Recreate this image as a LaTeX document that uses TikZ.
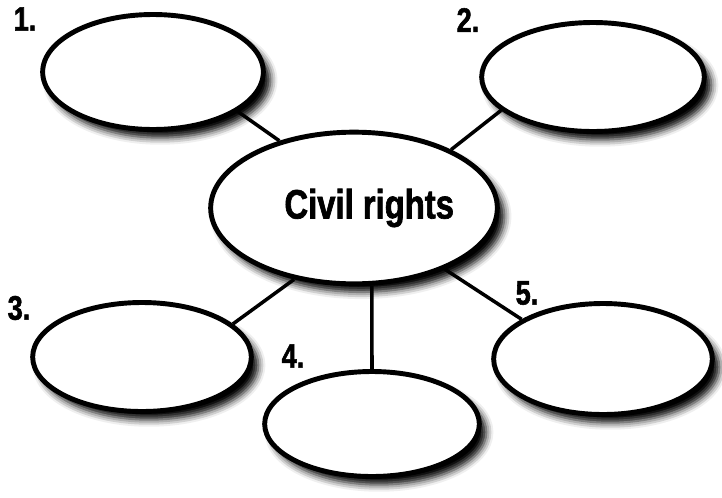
\documentclass[tikz,border=0pt]{standalone}
\usepackage{fontspec}
\newfontfamily\webfont{Liberation Sans}[FakeStretch=0.8,FakeBold=1.6]
\usetikzlibrary{shapes.geometric,shadows.blur}

\begin{document}
\begin{tikzpicture}[x=0.03cm,y=-0.03cm,
  bubble/.style={ellipse,draw,line width=4.2pt,fill=white,inner sep=0pt,
                 blur shadow={shadow xshift=6pt,shadow yshift=-7pt,
                              shadow blur radius=6pt,shadow opacity=100}},
  spoke/.style={line width=3pt},
  num/.style={font=\webfont\bfseries\fontsize{29}{30}\selectfont}]
  \useasboundingbox (0,0) rectangle (722,497);
  % central bubble
  \node[bubble,minimum width=8.6cm,minimum height=4.55cm,
        label={[font=\webfont\bfseries\fontsize{35}{36}\selectfont,xshift=13pt]center:Civil rights}]
        (c) at (354,208) {};
  % outer bubbles
  \node[bubble,minimum width=6.62cm,minimum height=3.45cm] (e1) at (153,72) {};
  \node[bubble,minimum width=6.68cm,minimum height=3.27cm] (e2) at (593,77) {};
  \node[bubble,minimum width=6.56cm,minimum height=3.27cm] (e3) at (142,357) {};
  \node[bubble,minimum width=6.44cm,minimum height=3.15cm] (e4) at (372,424) {};
  \node[bubble,minimum width=6.56cm,minimum height=3.33cm] (e5) at (603,359) {};
  % numbers
  \node[num] (n1) at (25,19) {1.};
  \node[num] (n2) at (468,20) {2.};
  \node[num] (n3) at (19,308) {3.};
  \node[num] (n4) at (293,356) {4.};
  \node[num] (n5) at (527,293) {5.};
  % spokes
  \draw[spoke] (e1.-25) -- (c.138);
  \draw[spoke] (e2.200) -- (c.31);
  \draw[spoke] (e3.20) -- (c.230);
  \draw[spoke] (e4.north) -- (c.283);
  \draw[spoke] (e5.154) -- (c.326);
\end{tikzpicture}
\end{document}
